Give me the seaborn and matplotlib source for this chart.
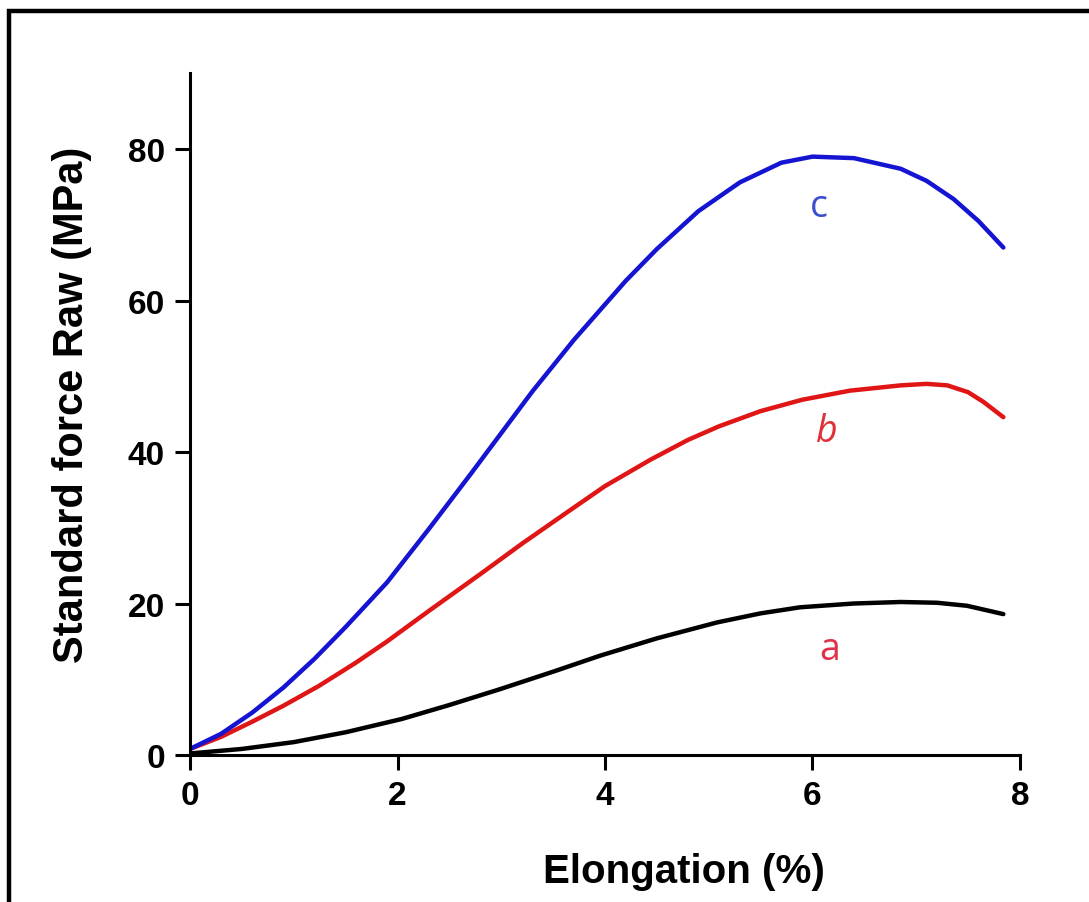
import numpy as np
import pandas as pd
import matplotlib.pyplot as plt
import seaborn as sns
from matplotlib.patches import Rectangle

# values (elongation %, stress MPa)
x_a = [0.0, 0.5, 1.0, 1.5, 2.04, 2.5, 2.99, 3.5, 3.95, 4.5, 5.08, 5.5, 5.88, 6.4, 6.85, 7.2, 7.49, 7.84]
y_a = [0.2, 0.8, 1.7, 3.0, 4.75, 6.6, 8.7, 11.0, 13.1, 15.4, 17.5, 18.7, 19.5, 20.0, 20.2, 20.1, 19.7, 18.6]

x_b = [0.0, 0.3, 0.6, 0.9, 1.24, 1.6, 1.9, 2.3, 2.8, 3.2, 3.63, 4.0, 4.44, 4.8, 5.1, 5.5, 5.9, 6.36, 6.85, 7.1, 7.3, 7.5, 7.65, 7.84]
y_b = [0.8, 2.4, 4.4, 6.5, 9.1, 12.2, 15.0, 19.0, 23.9, 27.9, 32.0, 35.5, 39.0, 41.6, 43.4, 45.4, 46.9, 48.1, 48.8, 49.0, 48.8, 47.9, 46.6, 44.6]

x_c = [0.0, 0.3, 0.6, 0.9, 1.2, 1.5, 1.9, 2.3, 2.7, 3.0, 3.3, 3.7, 4.2, 4.5, 4.9, 5.3, 5.7, 6.0, 6.4, 6.85, 7.1, 7.36, 7.6, 7.84]
y_c = [0.8, 2.8, 5.6, 8.9, 12.7, 16.9, 22.8, 29.8, 37.0, 42.5, 48.0, 54.8, 62.6, 66.8, 71.8, 75.6, 78.2, 79.0, 78.8, 77.4, 75.8, 73.4, 70.5, 67.0]

xticks = [0, 2, 4, 6, 8]
yticks = [0, 20, 40, 60, 80]

sns.set_style("ticks")
plt.rcParams['font.family'] = ['Liberation Sans', 'DejaVu Sans']
plt.rcParams['text.color'] = 'black'
plt.rcParams['axes.labelcolor'] = 'black'

fig = plt.figure(figsize=(10.89, 9.03), dpi=100)
ax = fig.add_axes([0.1745, 0.1628, 0.7621, 0.7549])

# curves
sns.lineplot(x=x_a, y=y_a, color='black', lw=3.2, ax=ax, sort=False)
sns.lineplot(x=x_b, y=y_b, color='#e01515', lw=3.2, ax=ax, sort=False)
sns.lineplot(x=x_c, y=y_c, color='#1414d2', lw=3.2, ax=ax, sort=False)

# curve labels
ax.text(6.06, 72.5, 'c', color='#3d4fcf', fontsize=27, family='Open Sans', ha='center', va='center')
ax.text(6.14, 42.8, 'b', color='#e0303a', fontsize=27, style='italic', family='Open Sans', ha='center', va='center')
ax.text(6.17, 14.0, 'a', color='#e0304a', fontsize=27, family='Open Sans', ha='center', va='center')

ax.set_xlim(0, 8)
ax.set_ylim(0, 90)
ax.set_xticks(xticks)
ax.set_yticks(yticks)
ax.tick_params(direction='out', length=11, width=2.2, labelsize=24, pad=7, colors='black')
for lbl in ax.get_xticklabels() + ax.get_yticklabels():
    lbl.set_fontweight('bold')

sns.despine(ax=ax)
for s in ['left', 'bottom']:
    ax.spines[s].set_linewidth(2.2)
    ax.spines[s].set_color('black')

ax.set_xlabel('Elongation (%)', fontsize=29, fontweight='bold', color='black')
ax.set_ylabel('Standard force Raw (MPa)', fontsize=30, fontweight='bold', color='black')
ax.xaxis.set_label_coords(0.595, -0.143)
ax.yaxis.set_label_coords(-0.118, 0.515)

# frame round the figure
fig.add_artist(Rectangle((9 / 1089, -0.1), 1.2, 1 - 12 / 903 + 0.1, transform=fig.transFigure,
                         fill=False, lw=3.2, ec='black', clip_on=False))

fig.savefig('out.png', dpi=100)
